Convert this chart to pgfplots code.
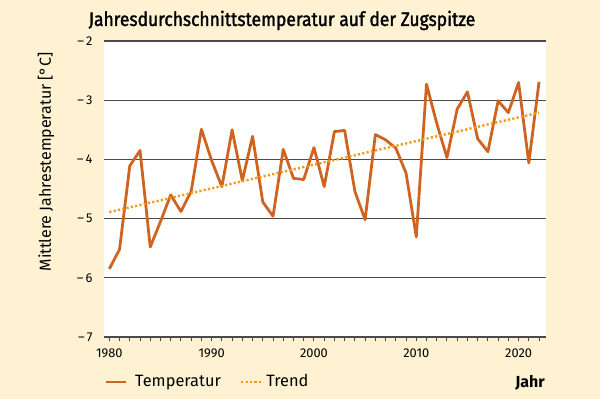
\documentclass[border=0pt]{standalone}
\usepackage{pgfplots}
\pgfplotsset{compat=1.18}
\usepackage{fontspec}
\setmainfont{Fira Sans}
\newfontfamily\titlefont[FakeStretch=0.89, FakeBold=1.5]{Fira Sans}
\definecolor{bgc}{HTML}{FFF2D2}
\definecolor{tempc}{HTML}{CF6420}
\definecolor{trendc}{HTML}{F39A1E}
\definecolor{gridc}{HTML}{4A4A4A}
\begin{document}
\begin{tikzpicture}[x=1pt,y=1pt]
\fill[bgc] (0,0) rectangle (300,-199.5);
\begin{axis}[
  at={(52pt,-168.5pt)}, anchor=south west,
  scale only axis, width=221pt, height=148pt,
  xmin=1979.48, xmax=2022.68, ymin=-7, ymax=-2,
  axis background/.style={fill=white},
  axis x line*=bottom, axis y line*=left,
  x axis line style={-, draw=gridc, line width=0.6pt},
  y axis line style={draw=none},
  xtick={1980,1990,2000,2010,2020},
  xticklabels={1980,1990,2000,2010,2020},
  minor xtick={1980,1981,...,2022},
  tick align=outside,
  major tick length=2.2pt, minor tick length=2.2pt,
  xtick style={draw=gridc, line width=0.5pt},
  ytick={-7,-6,-5,-4,-3,-2},
  yticklabels={–\,7,–\,6,–\,5,–\,4,–\,3,–\,2},
  ytick style={draw=none},
  ymajorgrids, grid style={draw=gridc, line width=0.6pt},
  tick label style={font=\fontsize{6.4pt}{7pt}\selectfont, text=black},
  clip=false,
  legend columns=2,
  legend style={at={(axis description cs:0.0,-0.152)}, anchor=west, draw=none, fill=none,
    font=\fontsize{8.2pt}{9pt}\selectfont, column sep=0pt, inner sep=0pt},
  legend image code/.code={\draw[#1] (0pt,0pt) -- (10pt,0pt);},
  /tikz/every even column/.append style={column sep=7.5pt},
]
\addplot[tempc, line width=1.4pt, line join=round] coordinates {
(1980,-5.85) (1981,-5.52) (1982,-4.11) (1983,-3.85) (1984,-5.48) (1985,-5.05)
(1986,-4.60) (1987,-4.88) (1988,-4.54) (1989,-3.49) (1990,-4.02) (1991,-4.46)
(1992,-3.50) (1993,-4.36) (1994,-3.61) (1995,-4.72) (1996,-4.96) (1997,-3.83)
(1998,-4.32) (1999,-4.34) (2000,-3.80) (2001,-4.46) (2002,-3.53) (2003,-3.51)
(2004,-4.54) (2005,-5.02) (2006,-3.58) (2007,-3.67) (2008,-3.81) (2009,-4.23)
(2010,-5.31) (2011,-2.73) (2012,-3.39) (2013,-3.97) (2014,-3.15) (2015,-2.86)
(2016,-3.65) (2017,-3.87) (2018,-3.01) (2019,-3.21) (2020,-2.70) (2021,-4.06)
(2022,-2.69)};
\addlegendentry{\hspace{2pt}Temperatur}
\addplot[trendc, line width=1.2pt, dash pattern=on 1.1pt off 1.1pt] coordinates {
(1980,-4.89) (2022,-3.21)};
\addlegendentry{Trend}
\end{axis}
\node[anchor=base, font=\titlefont\fontsize{9.8pt}{11pt}\selectfont] at (141,-13) {Jahresdurchschnittstemperatur auf der Zugspitze};
\node[rotate=90, anchor=center, font=\fontsize{8pt}{9pt}\selectfont] at (23,-81) {Mittlere Jahrestemperatur [°C]};
\node[anchor=base, font=\bfseries\fontsize{8pt}{9pt}\selectfont] at (265,-194) {Jahr};
\end{tikzpicture}
\end{document}
